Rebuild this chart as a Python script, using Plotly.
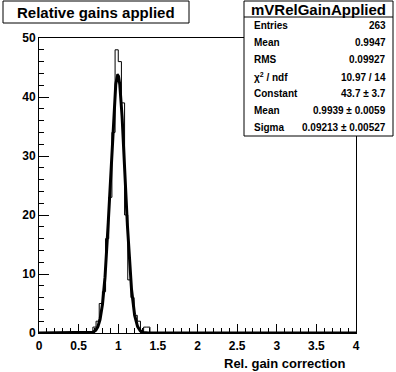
import numpy as np
import plotly.graph_objects as go

# ---- data ----
n_bins = 100
x_min, x_max = 0.0, 4.0
bin_lows = [0.68, 0.72, 0.76, 0.80, 0.84, 0.88, 0.92, 0.96, 1.00, 1.04,
            1.08, 1.12, 1.16, 1.20, 1.24, 1.28, 1.32, 1.36]
counts = [1, 2, 5, 7, 16, 23, 34, 48, 46, 39,
          20, 9, 6, 3, 2, 0, 1, 1]

fit_constant = 43.7
fit_mean = 0.9939
fit_sigma = 0.09213

stat_labels = ["Entries", "Mean", "RMS", "χ<sup>2</sup> / ndf", "Constant", "Mean", "Sigma"]
stat_values = ["263", "0.9947", "0.09927", "10.97 / 14", "43.7 ± 3.7",
               "0.9939 ± 0.0059", "0.09213 ± 0.00527"]
hist_name = "mVRelGainApplied"
title_text = "Relative gains applied"
x_title = "Rel. gain correction"

# ---- build histogram ----
bw = (x_max - x_min) / n_bins
edges = np.linspace(x_min, x_max, n_bins + 1)
full = np.zeros(n_bins)
for lo, c in zip(bin_lows, counts):
    full[int(round((lo - x_min) / bw))] = c
hx = edges
hy = np.append(full, full[-1])

fx = np.linspace(x_min, x_max, 2001)
fy = fit_constant * np.exp(-0.5 * ((fx - fit_mean) / fit_sigma) ** 2)

W, H = 396, 372
L, R, T, B = 39, 356, 38, 333


def px(xp):
    return (xp - L) / (R - L)


def py(yp):
    return (B - yp) / (B - T)


FONT = "Liberation Sans, Arial, Helvetica, sans-serif"

fig = go.Figure()
fig.add_trace(go.Scatter(x=hx, y=hy, mode="lines", line=dict(shape="hv", color="black", width=1),
                         hoverinfo="skip", showlegend=False))
fig.add_trace(go.Scatter(x=fx, y=fy, mode="lines", line=dict(color="black", width=3),
                         hoverinfo="skip", showlegend=False))

axis_common = dict(showgrid=False, zeroline=False, showline=True, linecolor="black", linewidth=1,
                   mirror=True, ticks="inside", tickcolor="black", tickwidth=1,
                   tickfont=dict(family=FONT, size=12, color="black", weight="bold"))

fig.update_layout(
    width=W, height=H,
    margin=dict(l=L, r=W - R, t=T, b=H - B, autoexpand=False),
    paper_bgcolor="white", plot_bgcolor="white",
    font=dict(family=FONT, color="black", weight="bold"),
    xaxis=dict(range=[x_min, x_max], tick0=0, dtick=0.5, ticklen=9, ticklabelstandoff=2,
               minor=dict(dtick=0.1, ticks="inside", ticklen=5, tickcolor="black", tickwidth=1),
               **axis_common),
    yaxis=dict(range=[0, 50], tick0=0, dtick=10, ticklen=10,
               minor=dict(dtick=2, ticks="inside", ticklen=5, tickcolor="black", tickwidth=1),
               **axis_common),
    showlegend=False,
)

shapes = []
annotations = []
# title box
shapes.append(dict(type="rect", xref="paper", yref="paper", x0=px(3), x1=px(189), y0=py(23), y1=py(1),
                   line=dict(color="black", width=1), fillcolor="white", layer="above"))
annotations.append(dict(xref="paper", yref="paper", x=px(96), y=py(12), text=title_text, showarrow=False,
                        xanchor="center", yanchor="middle",
                        font=dict(family=FONT, size=15, color="black", weight="bold")))
# stats box
shapes.append(dict(type="rect", xref="paper", yref="paper", x0=px(244), x1=px(393), y0=py(136), y1=py(1),
                   line=dict(color="black", width=1), fillcolor="white", layer="above"))
shapes.append(dict(type="line", xref="paper", yref="paper", x0=px(244), x1=px(393), y0=py(17), y1=py(17),
                   line=dict(color="black", width=1), layer="above"))
annotations.append(dict(xref="paper", yref="paper", x=px(318.5), y=py(9), text=hist_name, showarrow=False,
                        xanchor="center", yanchor="middle",
                        font=dict(family=FONT, size=15, color="black", weight="bold")))
row_y = [25, 42.5, 59.5, 77, 93.5, 110, 127]
for lab, val, yy in zip(stat_labels, stat_values, row_y):
    annotations.append(dict(xref="paper", yref="paper", x=px(252), y=py(yy), text=lab, showarrow=False,
                            xanchor="left", yanchor="middle",
                            font=dict(family=FONT, size=10, color="black", weight="bold")))
    annotations.append(dict(xref="paper", yref="paper", x=px(388), y=py(yy), text=val, showarrow=False,
                            xanchor="right", yanchor="middle",
                            font=dict(family=FONT, size=10, color="black", weight="bold")))
# x axis title
annotations.append(dict(xref="paper", yref="paper", x=px(347), y=py(363), text=x_title, showarrow=False,
                        xanchor="right", yanchor="middle",
                        font=dict(family=FONT, size=13, color="black", weight="bold")))

fig.update_layout(shapes=shapes, annotations=annotations)
fig.write_html("out.html", config=dict(displayModeBar=False),
               post_script="document.body.style.margin='0';document.body.style.padding='0';")
